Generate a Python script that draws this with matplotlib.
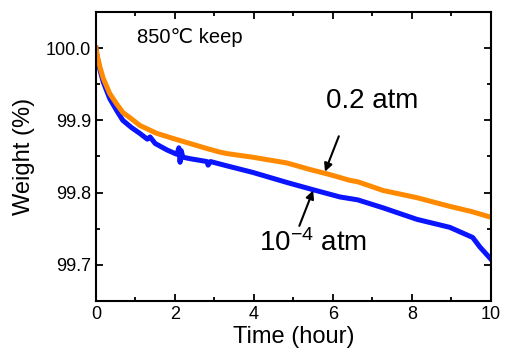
import matplotlib
matplotlib.use('Agg')
import matplotlib.pyplot as plt
from matplotlib.ticker import MultipleLocator

plt.rcParams['font.family'] = ['Liberation Sans', 'DejaVu Sans']
plt.rcParams['mathtext.fontset'] = 'custom'
plt.rcParams['mathtext.rm'] = 'Liberation Sans'
plt.rcParams['mathtext.it'] = 'Liberation Sans'

# 0.2 atm (orange)
t_o2 = [0, 0.03, 0.1, 0.185, 0.35, 0.52, 0.68, 0.9, 1.11, 1.54, 1.95, 2.38,
        2.81, 3.14, 3.32, 3.97, 4.84, 5.42, 5.92, 6.43, 6.63, 7.27, 8.13, 8.96,
        9.5, 10.0]
w_o2 = [100.0, 99.99, 99.974, 99.958, 99.937, 99.923, 99.911, 99.902, 99.893,
        99.882, 99.875, 99.868, 99.861, 99.856, 99.854, 99.849, 99.841, 99.832,
        99.825, 99.817, 99.815, 99.803, 99.793, 99.781, 99.774, 99.766]

# 1e-4 atm (blue)
t_lo = [0, 0.03, 0.1, 0.185, 0.35, 0.52, 0.68, 0.9, 1.11, 1.3, 1.37, 1.5, 1.8,
        2.05, 2.1, 2.13, 2.16, 2.2, 2.38, 2.81, 2.84, 2.9, 3.32, 3.97, 4.84,
        5.5, 6.18, 6.63, 7.27, 8.13, 8.96, 9.54, 9.72, 10.0]
w_lo = [100.0, 99.988, 99.970, 99.953, 99.930, 99.914, 99.900, 99.890, 99.882,
        99.874, 99.877, 99.868, 99.859, 99.853, 99.862, 99.842, 99.858, 99.849,
        99.847, 99.843, 99.838, 99.843, 99.837, 99.828, 99.814, 99.804, 99.794,
        99.790, 99.779, 99.763, 99.752, 99.738, 99.725, 99.708]

fig = plt.figure(figsize=(5.05, 3.61), dpi=100)
ax = fig.add_axes([0.190, 0.166, 0.782, 0.801])

ax.plot(t_lo, w_lo, color='#0a14ff', lw=3.6, solid_joinstyle='round')
ax.plot(t_o2, w_o2, color='#ff8a00', lw=3.6, solid_joinstyle='round')

ax.set_xlim(0, 10)
ax.set_ylim(99.65, 100.05)
ax.xaxis.set_major_locator(MultipleLocator(2))
ax.xaxis.set_minor_locator(MultipleLocator(1))
ax.yaxis.set_minor_locator(MultipleLocator(0.05))
ax.set_yticks([99.7, 99.8, 99.9, 100.0])
ax.set_yticklabels(['99.7', '99.8', '99.9', '100.0'])
ax.tick_params(which='both', direction='in', top=True, right=True, width=1.3,
               labelsize=13)
ax.tick_params(which='major', length=5)
ax.tick_params(which='minor', length=3)
for s in ax.spines.values():
    s.set_linewidth(1.5)

ax.set_xlabel('Time (hour)', fontsize=17, labelpad=2)
ax.set_ylabel('Weight (%)', fontsize=17, labelpad=8)

ax.text(1.05, 100.015, '850℃ keep', fontsize=14.5, ha='left', va='center')
ax.text(7.0, 99.927, '0.2 atm', fontsize=20, ha='center', va='center')
ax.annotate('', xy=(5.8, 99.829), xytext=(6.15, 99.878),
            arrowprops=dict(arrowstyle='-|>', color='black', lw=1.5,
                            mutation_scale=12, shrinkA=0, shrinkB=0))
ax.text(5.5, 99.73, '10$^{-4}$ atm', fontsize=20, ha='center', va='center')
ax.annotate('', xy=(5.5, 99.803), xytext=(5.15, 99.754),
            arrowprops=dict(arrowstyle='-|>', color='black', lw=1.5,
                            mutation_scale=12, shrinkA=0, shrinkB=0))

fig.savefig('out.png', dpi=100)
